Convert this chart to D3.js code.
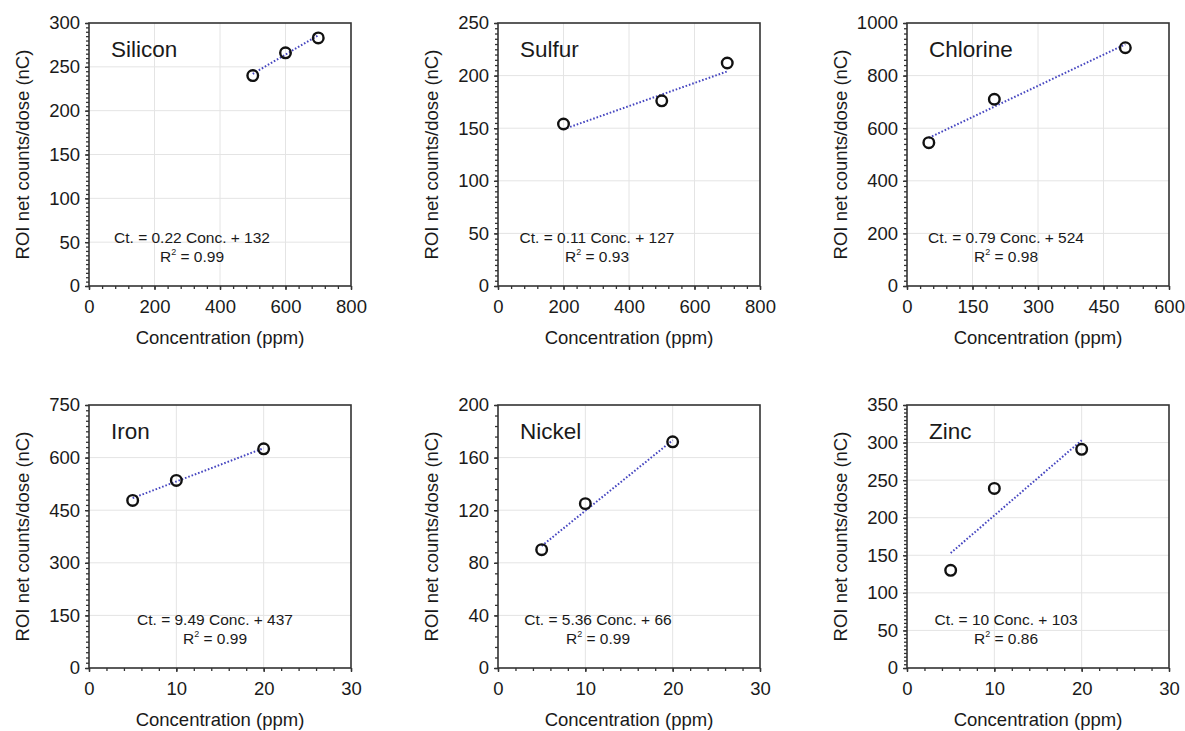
<!DOCTYPE html>
<html><head><meta charset="utf-8">
<script src="https://cdn.jsdelivr.net/npm/d3@7"></script>
<style>
body{margin:0;background:#fff;}
svg{display:block;}
text{font-family:"Liberation Sans",Arial,Helvetica,sans-serif;fill:#1a1a1a;}
</style>
</head><body><svg id="c" width="1185" height="731"></svg>
<script>
// ---------- data ----------
const elements = ["Silicon", "Sulfur", "Chlorine", "Iron", "Nickel", "Zinc"];
const concentrations = [
  [500, 600, 700],   // Silicon
  [200, 500, 700],   // Sulfur
  [50, 200, 500],    // Chlorine
  [5, 10, 20],       // Iron
  [5, 10, 20],       // Nickel
  [5, 10, 20]        // Zinc
];
const counts = [
  [240, 266, 283],
  [154, 176, 212],
  [545, 710, 906],
  [478, 535, 625],
  [90, 125, 172],
  [130, 239, 291]
];
const slopes = [0.22, 0.11, 0.79, 9.49, 5.36, 10];
const intercepts = [132, 127, 524, 437, 66, 103];
const r2 = ["0.99", "0.93", "0.98", "0.99", "0.99", "0.86"];
const xMax = [800, 800, 600, 30, 30, 30];
const xMajor = [200, 200, 150, 10, 10, 10];
const xMinor = [40, 40, 30, 2, 2, 2];
const yMax = [300, 250, 1000, 750, 200, 350];
const yMajor = [50, 50, 200, 150, 40, 50];
const yMinor = [5, 5, 20, 15, 8, 5];
const xTitle = "Concentration (ppm)";
const yTitle = "ROI net counts/dose (nC)";

// ---------- layout ----------
const colLeft = [89, 498, 907];
const rowTop = [23, 405];
const plotW = 262, plotH = 263;
const eqDx = [103, 99, 99, 126, 100, 99];

const svg = d3.select("#c");
const rng = (max, step) => d3.range(0, max + step / 2, step);

elements.forEach((name, i) => {
  const left = colLeft[i % 3], top = rowTop[Math.floor(i / 3)];
  const g = svg.append("g").attr("transform", `translate(${left},${top})`);
  const x = d3.scaleLinear().domain([0, xMax[i]]).range([0, plotW]);
  const y = d3.scaleLinear().domain([0, yMax[i]]).range([plotH, 0]);
  const xMaj = rng(xMax[i], xMajor[i]), yMaj = rng(yMax[i], yMajor[i]);
  const xMin = rng(xMax[i], xMinor[i]), yMin = rng(yMax[i], yMinor[i]);

  // grid
  g.append("g").selectAll("line").data(xMaj.slice(1, -1)).join("line")
    .attr("x1", d => x(d)).attr("x2", d => x(d)).attr("y1", 0).attr("y2", plotH)
    .attr("stroke", "#e4e4e4").attr("stroke-width", 1);
  g.append("g").selectAll("line").data(yMaj.slice(1, -1)).join("line")
    .attr("y1", d => y(d)).attr("y2", d => y(d)).attr("x1", 0).attr("x2", plotW)
    .attr("stroke", "#e4e4e4").attr("stroke-width", 1);

  // minor ticks
  const minorX = g.append("g").attr("transform", `translate(0,${plotH})`)
    .call(d3.axisBottom(x).tickValues(xMin).tickSize(3).tickFormat(""));
  const minorY = g.append("g")
    .call(d3.axisLeft(y).tickValues(yMin).tickSize(3).tickFormat(""));
  [minorX, minorY].forEach(a => { a.select(".domain").remove(); a.selectAll("line").attr("stroke", "#333").attr("stroke-width", 1.3); });

  // major axes
  const ax = g.append("g").attr("transform", `translate(0,${plotH})`)
    .call(d3.axisBottom(x).tickValues(xMaj).tickSize(4).tickPadding(10).tickFormat(d3.format("d")));
  const ay = g.append("g")
    .call(d3.axisLeft(y).tickValues(yMaj).tickSize(4).tickPadding(5).tickFormat(d3.format("d")));
  [ax, ay].forEach(a => {
    a.select(".domain").remove();
    a.selectAll("line").attr("stroke", "#333").attr("stroke-width", 1.4);
    a.selectAll("text").attr("font-size", 18.5).attr("fill", "#1a1a1a")
      .style("font-family", '"Liberation Sans",Arial,sans-serif');
  });

  // frame
  g.append("rect").attr("x", 0).attr("y", 0).attr("width", plotW).attr("height", plotH)
    .attr("fill", "none").attr("stroke", "#333").attr("stroke-width", 1.6);

  // trend line
  const xs = d3.extent(concentrations[i]);
  g.append("line")
    .attr("x1", x(xs[0])).attr("y1", y(slopes[i] * xs[0] + intercepts[i]))
    .attr("x2", x(xs[1])).attr("y2", y(slopes[i] * xs[1] + intercepts[i]))
    .attr("stroke", "#4646c0").attr("stroke-width", 2)
    .attr("stroke-dasharray", "1.6,1.9");

  // points
  g.append("g").selectAll("circle").data(concentrations[i]).join("circle")
    .attr("cx", d => x(d)).attr("cy", (d, j) => y(counts[i][j]))
    .attr("r", 5.3).attr("fill", "none").attr("stroke", "#111").attr("stroke-width", 2.4);

  // element title
  g.append("text").attr("x", 22).attr("y", 34).attr("font-size", 22.5).text(name);

  // equation
  const eq = g.append("text").attr("x", eqDx[i]).attr("y", plotH - 43)
    .attr("text-anchor", "middle").attr("font-size", 15.5);
  eq.text(`Ct. = ${slopes[i]} Conc. + ${intercepts[i]}`);
  const rt = g.append("text").attr("x", eqDx[i]).attr("y", plotH - 24)
    .attr("text-anchor", "middle").attr("font-size", 15.5);
  rt.append("tspan").text("R");
  rt.append("tspan").attr("font-size", 9).attr("dy", -7).text("2");
  rt.append("tspan").attr("dy", 7).text(` = ${r2[i]}`);

  // axis titles
  g.append("text").attr("x", plotW / 2).attr("y", plotH + 58)
    .attr("text-anchor", "middle").attr("font-size", 18.5).text(xTitle);
  g.append("text").attr("transform", `translate(-60,${plotH / 2}) rotate(-90)`)
    .attr("text-anchor", "middle").attr("font-size", 18.5).text(yTitle);
});
</script>
</body></html>
